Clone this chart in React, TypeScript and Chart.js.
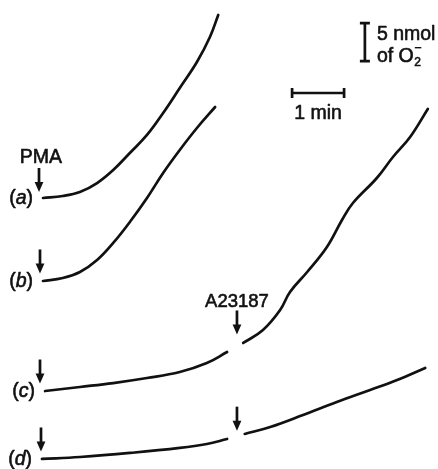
import React, { useEffect, useRef } from "react";
import { Chart, registerables } from "chart.js";

Chart.register(...registerables);

// Time after addition (min) and O2- produced (nmol)
const timeA = [0, 0.38, 0.71, 1.04, 1.35, 1.67, 2.0, 2.31, 2.63, 2.96, 3.21, 3.37];
const o2A = [0, 0.26, 0.79, 1.97, 3.68, 5.92, 8.29, 11.18, 14.47, 17.89, 21.18, 24.08];

const timeB = [0, 0.38, 0.71, 1.04, 1.35, 1.67, 2.0, 2.31, 2.63, 2.96, 3.31];
const o2B = [0, 0.39, 1.18, 2.76, 5.0, 7.76, 10.92, 14.21, 17.24, 20.13, 22.89];

const timeC1 = [0.04, 0.71, 1.35, 2.0, 2.63, 3.15, 3.54];
const o2C1 = [0, 0.53, 1.05, 1.71, 2.5, 3.68, 5.13];
const timeC2 = [3.85, 4.23, 4.56, 4.75, 5.08, 5.46, 5.75, 5.96, 6.42, 6.73, 7.06, 7.4];
const o2C2 = [6.32, 8.03, 10.66, 13.03, 15.66, 18.95, 22.5, 24.74, 28.03, 30.79, 33.42, 37.11];

const timeD1 = [-0.02, 0.71, 1.67, 2.63, 3.15, 3.54];
const o2D1 = [0, 0.26, 0.79, 1.45, 1.97, 2.63];
const timeD2 = [3.88, 4.37, 5.0, 5.65, 6.29, 6.81, 7.35];
const o2D2 = [3.29, 4.21, 5.79, 7.5, 9.08, 10.39, 11.97];

// Vertical stacking of the traces (nmol)
const traceLabels = ["a", "b", "c", "d"];
const traceOffsets = [35.66, 24.74, 10.26, 1.32];

// Additions
const pmaTime = -0.08;
const a23187Time = 3.73;

// Scale bars
const scaleBarMin = 1; // min
const scaleBarNmol = 5; // nmol

const X_MIN = -0.827;
const X_MAX = 7.596;
const Y_MIN = 0;
const Y_MAX = 61.71;

const INK = "#111111";
const FONT = '"Liberation Sans", Arial, Helvetica, sans-serif';
const FS = 19.5;

function pts(t: number[], v: number[], off: number) {
  return t.map((x, i) => ({ x, y: v[i] + off }));
}

const annotationPlugin = {
  id: "figAnnotations",
  afterDatasetsDraw(chart: any) {
    const ctx = chart.ctx as CanvasRenderingContext2D;
    const xs = chart.scales.x;
    const ys = chart.scales.y;
    const X = (t: number) => xs.getPixelForValue(t);
    const Y = (v: number) => ys.getPixelForValue(v);

    ctx.save();
    ctx.strokeStyle = INK;
    ctx.fillStyle = INK;
    ctx.lineCap = "butt";

    const text = (s: string, x: number, y: number) => {
      ctx.save();
      ctx.lineWidth = 0.6;
      ctx.lineJoin = "round";
      ctx.strokeText(s, x, y);
      ctx.restore();
      ctx.fillText(s, x, y);
    };

    const arrow = (x: number, tipY: number, len: number) => {
      ctx.lineWidth = 2.7;
      ctx.beginPath();
      ctx.moveTo(x, tipY - len);
      ctx.lineTo(x, tipY - 8);
      ctx.stroke();
      ctx.beginPath();
      ctx.moveTo(x - 4.4, tipY - 10);
      ctx.lineTo(x + 4.4, tipY - 10);
      ctx.lineTo(x, tipY);
      ctx.closePath();
      ctx.fill();
    };

    const startTimes = [timeA[0], timeB[0], timeC1[0], timeD1[0]];

    // Arrows at PMA addition
    traceOffsets.forEach((off, i) => {
      const tipGap = i === 0 ? 6 : 7.5;
      arrow(Math.round(X(pmaTime)) + (i === 3 ? 1 : 0) + (i > 0 ? 1 : 0), Y(off) - tipGap, 24);
    });

    // Arrows at A23187 addition (c and d)
    arrow(X(a23187Time), Y(traceOffsets[2] + 5.6) - 14, 24);
    arrow(X(a23187Time), Y(traceOffsets[3] + 3.0) - 5.5, 24);

    ctx.textAlign = "center";
    ctx.textBaseline = "alphabetic";
    ctx.font = `${FS}px ${FONT}`;
    text("PMA", X(pmaTime) + 2, Y(traceOffsets[0]) - 35);
    ctx.font = `18.5px ${FONT}`;
    text("A23187", X(a23187Time), Y(traceOffsets[2] + 5.6) - 41);

    // Trace labels (a) (b) (c) (d)
    traceOffsets.forEach((off, i) => {
      const yMid = Y(off) + 1;
      const right = X(startTimes[i]) - 10;
      ctx.textBaseline = "middle";
      ctx.textAlign = "left";
      ctx.font = `${FS}px ${FONT}`;
      const wP = ctx.measureText("(").width;
      const wQ = ctx.measureText(")").width;
      ctx.font = `italic ${FS}px ${FONT}`;
      const wL = ctx.measureText(traceLabels[i]).width;
      let x = right - (wP + wL + wQ);
      ctx.font = `${FS}px ${FONT}`;
      text("(", x, yMid);
      x += wP;
      ctx.font = `italic ${FS}px ${FONT}`;
      text(traceLabels[i], x, yMid);
      x += wL;
      ctx.font = `${FS}px ${FONT}`;
      text(")", x, yMid);
    });

    // Horizontal scale bar: 1 min
    const hx0 = X(4.79);
    const hx1 = X(4.79 + scaleBarMin);
    const hy = Y(49.47);
    ctx.lineWidth = 2.7;
    ctx.beginPath();
    ctx.moveTo(hx0, hy);
    ctx.lineTo(hx1, hy);
    ctx.moveTo(hx0, hy - 5);
    ctx.lineTo(hx0, hy + 5);
    ctx.moveTo(hx1, hy - 5);
    ctx.lineTo(hx1, hy + 5);
    ctx.stroke();
    ctx.textAlign = "center";
    ctx.textBaseline = "alphabetic";
    ctx.font = `${FS}px ${FONT}`;
    text("1 min", (hx0 + hx1) / 2, hy + 26);

    // Vertical scale bar: 5 nmol
    const vx = X(6.19);
    const vy0 = Y(53.68);
    const vy1 = Y(53.68 + scaleBarNmol);
    ctx.lineWidth = 2.7;
    ctx.beginPath();
    ctx.moveTo(vx, vy0);
    ctx.lineTo(vx, vy1);
    ctx.moveTo(vx - 5, vy0);
    ctx.lineTo(vx + 5, vy0);
    ctx.moveTo(vx - 5, vy1);
    ctx.lineTo(vx + 5, vy1);
    ctx.stroke();
    ctx.textAlign = "left";
    ctx.font = `${FS}px ${FONT}`;
    const tx = vx + 12;
    text("5 nmol", tx, vy1 + 17);
    const line2 = vy1 + 39;
    text("of O", tx, line2);
    const wOfO = ctx.measureText("of O").width;
    ctx.font = `12px ${FONT}`;
    text("2", tx + wOfO + 0.5, line2 + 4);
    ctx.font = `bold 13px ${FONT}`;
    ctx.fillText("\u2212", tx + wOfO + 0.5, line2 - 10);
    ctx.restore();
  },
};

export default function App() {
  const canvasRef = useRef<HTMLCanvasElement | null>(null);

  useEffect(() => {
    document.body.style.margin = "0";
    document.body.style.background = "#ffffff";
    const canvas = canvasRef.current;
    if (!canvas) return;

    const line = (data: { x: number; y: number }[]) => ({
      data,
      borderColor: INK,
      borderWidth: 2.7,
      pointRadius: 0,
      borderCapStyle: "round" as const,
      borderJoinStyle: "round" as const,
      tension: 0.4,
      fill: false,
      showLine: true,
    });

    const chart = new Chart(canvas, {
      type: "scatter",
      data: {
        datasets: [
          line(pts(timeA, o2A, traceOffsets[0])),
          line(pts(timeB, o2B, traceOffsets[1])),
          line(pts(timeC1, o2C1, traceOffsets[2])),
          line(pts(timeC2, o2C2, traceOffsets[2])),
          line(pts(timeD1, o2D1, traceOffsets[3])),
          line(pts(timeD2, o2D2, traceOffsets[3])),
        ],
      },
      options: {
        responsive: false,
        animation: false,
        devicePixelRatio: 1,
        layout: { padding: 0 },
        plugins: {
          legend: { display: false },
          tooltip: { enabled: false },
          title: { display: false },
        },
        scales: {
          x: { type: "linear", min: X_MIN, max: X_MAX, display: false },
          y: { type: "linear", min: Y_MIN, max: Y_MAX, display: false },
        },
      },
      plugins: [annotationPlugin],
    });

    return () => chart.destroy();
  }, []);

  return (
    <div style={{ width: 438, height: 469, background: "#fff" }}>
      <canvas ref={canvasRef} width={438} height={469} style={{ display: "block" }} />
    </div>
  );
}
